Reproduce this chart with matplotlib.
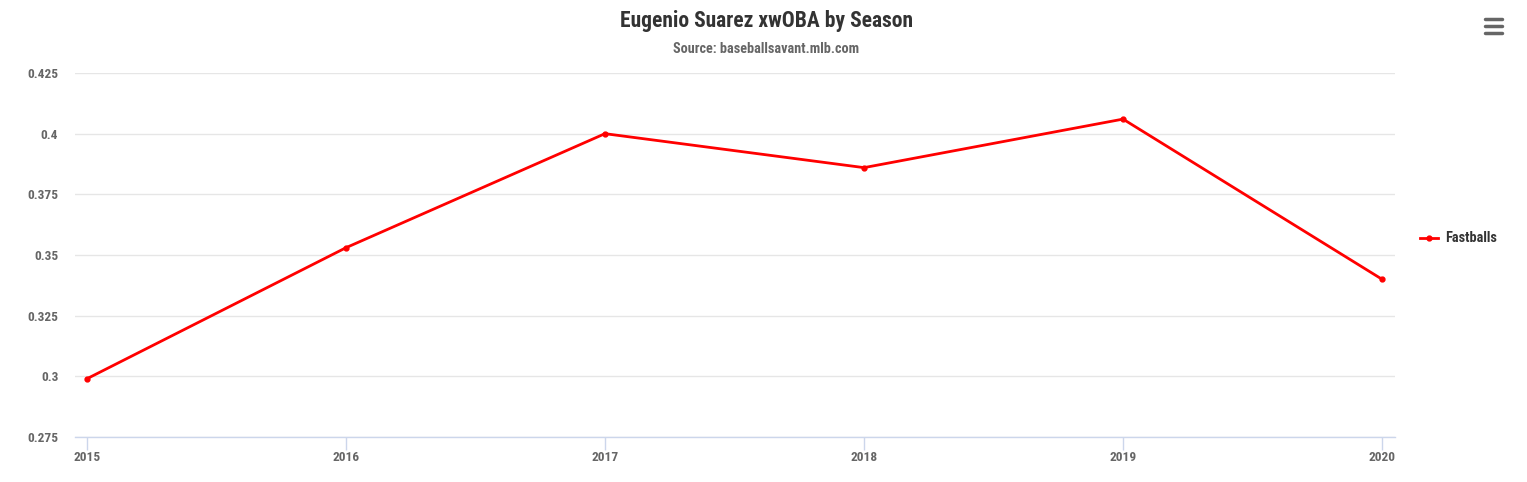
import matplotlib
matplotlib.use("Agg")
import matplotlib.pyplot as plt
from matplotlib import font_manager
from matplotlib.lines import Line2D

seasons = ["2015", "2016", "2017", "2018", "2019", "2020"]
xwoba = [0.299, 0.353, 0.400, 0.386, 0.406, 0.340]
y_ticks = [0.275, 0.3, 0.325, 0.35, 0.375, 0.4, 0.425]
y_tick_labels = ["0.275", "0.3", "0.325", "0.35", "0.375", "0.4", "0.425"]
series_name = "Fastballs"

installed = {f.name for f in font_manager.fontManager.ttflist}
for fam in ["Roboto Condensed", "Liberation Sans Narrow", "Roboto"]:
    if fam in installed:
        font = fam
        break
else:
    font = "DejaVu Sans"
plt.rcParams["font.family"] = [font, "DejaVu Sans"]

W, H = 1527, 482
fig = plt.figure(figsize=(W / 100, H / 100), dpi=100)
ax = fig.add_axes([75 / W, (H - 437) / H, 1320 / W, 364 / H])

x = list(range(len(seasons)))
ax.plot(x, xwoba, color="#ff0000", linewidth=2, marker="o", markersize=3.5,
        label=series_name, zorder=3)

ax.set_xlim(-0.046, 5.05)
ax.set_ylim(0.275, 0.425)
ax.set_yticks(y_ticks)
ax.set_yticklabels(y_tick_labels)
ax.set_xticks(x)
ax.set_xticklabels(seasons)

ax.grid(axis="y", color="#e6e6e6", linewidth=1)
ax.set_axisbelow(True)
for side in ["top", "right", "left"]:
    ax.spines[side].set_visible(False)
ax.spines["bottom"].set_color("#ccd6eb")
ax.spines["bottom"].set_linewidth(1)
ax.tick_params(axis="y", length=0, pad=12, labelsize=9.6, labelcolor="#666666")
ax.tick_params(axis="x", length=9, width=1, color="#ccd6eb", pad=1,
               labelsize=9.6, labelcolor="#666666")
for lbl in ax.get_xticklabels() + ax.get_yticklabels():
    lbl.set_fontweight("bold")

fig.text(766 / W, 1 - 21 / H, "Eugenio Suarez xwOBA by Season", ha="center",
         va="center", fontsize=15.5, fontweight="bold", color="#333333")
fig.text(766 / W, 1 - 49 / H, "Source: baseballsavant.mlb.com", ha="center",
         va="center", fontsize=10.3, fontweight="bold", color="#666666")

# legend
fig.add_artist(Line2D([1420 / W, 1438 / W], [1 - 238 / H, 1 - 238 / H],
                      color="#ff0000", linewidth=2))
fig.add_artist(Line2D([1429 / W], [1 - 238 / H], color="#ff0000",
                      marker="o", markersize=3.5, linestyle="none"))
fig.text(1445 / W, 1 - 238 / H, series_name, ha="left", va="center",
         fontsize=10.3, fontweight="bold", color="#333333")

# menu icon
for yy in [19, 26, 33]:
    fig.add_artist(Line2D([1485 / W, 1502 / W], [1 - yy / H, 1 - yy / H],
                          color="#666666", linewidth=2.5,
                          solid_capstyle="round"))

fig.savefig("out.png", dpi=100)
